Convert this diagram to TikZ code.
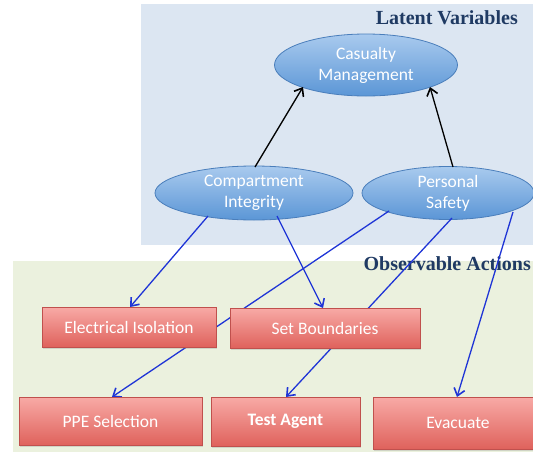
\documentclass[tikz,border=0pt]{standalone}
\usepackage{fontspec}
\setmainfont{Carlito}
\newfontfamily\headfont{Liberation Serif}
\usetikzlibrary{arrows.meta,shapes.geometric,shadows}
\definecolor{latentbg}{HTML}{DCE6F2}
\definecolor{actionbg}{HTML}{EBF1DE}
\definecolor{headblue}{HTML}{1F3A63}
\definecolor{ellborder}{HTML}{4A7EBB}
\definecolor{elltop}{HTML}{A9CAEE}
\definecolor{ellbot}{HTML}{5B96D6}
\definecolor{boxborder}{HTML}{C0504D}
\definecolor{boxtop}{HTML}{F8AAA6}
\definecolor{boxbot}{HTML}{DF625C}
\definecolor{linkblue}{HTML}{1F35D6}
\tikzset{
  latent/.style={ellipse, draw=ellborder, line width=0.8pt,
    top color=elltop, bottom color=ellbot, text=white,
    font=\fontsize{17.5}{21}\selectfont, align=center, inner sep=0pt},
  action/.style={rectangle, draw=boxborder, line width=0.8pt,
    top color=boxtop, bottom color=boxbot, text=white,
    font=\fontsize{17.5}{21}\selectfont, inner sep=0pt,
    drop shadow={shadow xshift=1pt, shadow yshift=-1.5pt, opacity=0.25}},
  heading/.style={font=\headfont\bfseries\fontsize{20}{23}\selectfont, text=headblue, inner sep=0pt},
  causal/.style={-{Straight Barb[length=7pt,width=11pt,line width=1.6pt]}, line width=1.3pt, black},
  measure/.style={-{Straight Barb[length=7pt,width=11pt,line width=1.6pt]}, line width=1.3pt, linkblue},
}
\begin{document}
\begin{tikzpicture}[x=1pt,y=-1pt]
\useasboundingbox (0,0) rectangle (533,453);
\begin{scope}
\clip (0,0) rectangle (533,453);
% panels
\fill[latentbg] (141,4) rectangle (540,245);
\fill[actionbg] (13,261) rectangle (540,452);
\node[heading, anchor=east] (hlatent) at (518,18) {Latent Variables};
\node[heading, anchor=east] (haction) at (531,264) {Observable Actions};

% latent variables
\node[latent, minimum width=183pt, minimum height=62pt] (cas) at (366,65) {Casualty\\Management};
\node[latent, minimum width=198pt, minimum height=54pt] (comp) at (254,193) {Compartment\\Integrity};
\node[latent, minimum width=172pt, minimum height=53pt] (pers) at (448,193) {Personal\\Safety};

% observable action centres
\coordinate (eiC) at (129,327);
\coordinate (sbC) at (325,328);
\coordinate (ppeC) at (110.5,421);
\coordinate (taC) at (285.5,421.5);
\coordinate (evC) at (458,423);

% links, behind the boxes
\draw[causal] (255,167) -- (303,87);
\draw[causal] (453,167) -- (430,87);
\draw[measure] (208,216) -- (130,307);
\draw[measure] (277,216) -- (323,308);
\draw[measure] (389,211) -- (112,397);
\draw[measure] (452,218) -- (286,397);
\draw[measure] (513,212) -- (457,397);

\node[action, minimum width=174pt, minimum height=40pt] (ei) at (eiC) {Electrical Isolation};
\node[action, minimum width=190pt, minimum height=40pt] (sb) at (sbC) {Set Boundaries};
\node[action, minimum width=183pt, minimum height=48pt] (ppe) at (ppeC) {PPE Selection};
\node[action, minimum width=149pt, minimum height=49pt, font=\bfseries\fontsize{17.5}{21}\selectfont] (ta) at (taC) {Test Agent};
\node[action, minimum width=170pt, minimum height=52pt] (ev) at (evC) {Evacuate};
\end{scope}
\end{tikzpicture}
\end{document}
